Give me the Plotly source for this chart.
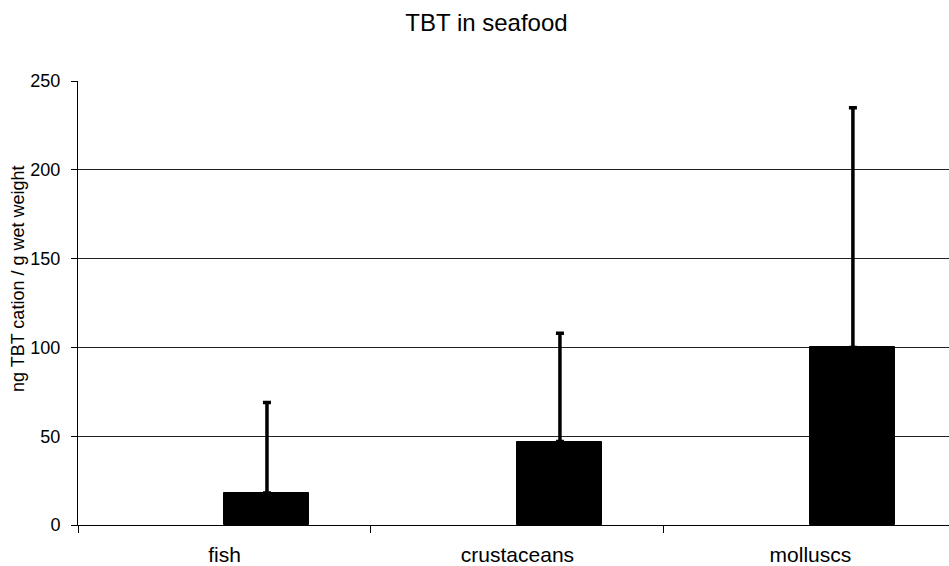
import plotly.graph_objects as go

categories = ["fish", "crustaceans", "molluscs"]
means = [18, 47, 100]
upper_err = [51, 61, 135]
y_ticks = [0, 50, 100, 150, 200, 250]

fig = go.Figure()
fig.add_trace(go.Bar(
    x=categories,
    y=means,
    width=0.29,
    offset=0,
    marker=dict(color="#000000", line=dict(color="#000000", width=1)),
    error_y=dict(type="data", array=upper_err, symmetric=False,
                 arrayminus=[0, 0, 0], color="#000000", thickness=3.5, width=4),
    showlegend=False,
))

font_family = "Liberation Sans, Arial, sans-serif"
fig.update_layout(
    width=949, height=566,
    margin=dict(l=78, r=0, t=81, b=41),
    paper_bgcolor="white", plot_bgcolor="white",
    font=dict(family=font_family, color="#000000"),
    title=dict(text="TBT in seafood", x=486.5 / 949, xanchor="center",
               y=1 - 23 / 566, yanchor="middle",
               xref="container", yref="container", font=dict(size=24)),
    bargap=0,
)
# vertical axis title, placed as a rotated annotation left of the tick labels
fig.add_annotation(
    text="ng TBT cation / g wet weight",
    xref="paper", yref="paper",
    x=(18 - 78) / 871, y=(525 - 279) / 444,
    xanchor="center", yanchor="middle",
    textangle=-90, showarrow=False,
    font=dict(size=18),
)
fig.update_xaxes(
    type="category",
    range=[-0.5, 2.473],
    tickson="boundaries",
    ticks="outside", ticklen=7, tickcolor="#000000",
    showline=True, linecolor="#000000", linewidth=1,
    showgrid=False,
    tickfont=dict(size=21),
    ticklabelstandoff=11,
    automargin=False,
)
fig.update_yaxes(
    range=[0, 250],
    tickvals=y_ticks,
    ticks="outside", ticklen=6, tickcolor="#000000",
    showline=True, linecolor="#000000", linewidth=1,
    showgrid=True, gridcolor="#222222", gridwidth=1,
    zeroline=False,
    tickfont=dict(size=18),
    ticklabelstandoff=7,
    automargin=False,
)

fig.write_html("out.html")
